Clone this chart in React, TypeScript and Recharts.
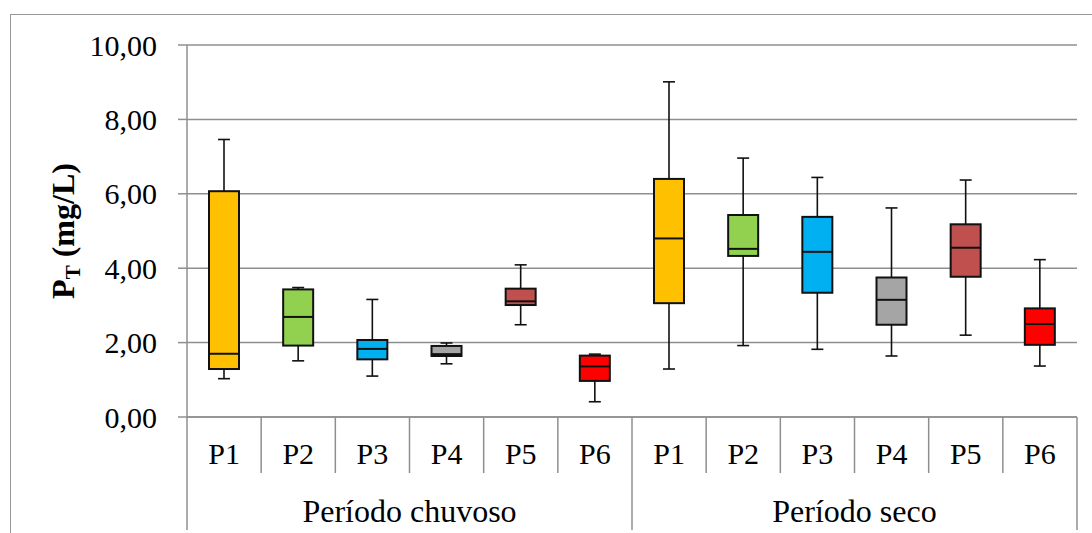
import { BarChart, Bar, XAxis, YAxis, CartesianGrid } from 'recharts';

const sites = ['P1', 'P2', 'P3', 'P4', 'P5', 'P6', 'P1', 'P2', 'P3', 'P4', 'P5', 'P6'];
const periods = ['Período chuvoso', 'Período seco'];

const minVals = [1.03, 1.51, 1.1, 1.43, 2.48, 0.41, 1.29, 1.92, 1.82, 1.64, 2.2, 1.37];
const q1Vals = [1.29, 1.92, 1.55, 1.64, 3.01, 0.97, 3.06, 4.33, 3.34, 2.48, 3.77, 1.94];
const medianVals = [1.7, 2.69, 1.83, 1.69, 3.11, 1.36, 4.8, 4.52, 4.44, 3.15, 4.55, 2.5];
const q3Vals = [6.07, 3.43, 2.07, 1.91, 3.45, 1.65, 6.4, 5.43, 5.38, 3.75, 5.18, 2.92];
const maxVals = [7.46, 3.48, 3.16, 1.99, 4.09, 1.69, 9.01, 6.96, 6.44, 5.62, 6.37, 4.23];

const yTicks = [0, 2, 4, 6, 8, 10];
const boxColors = ['#FFC000', '#92D050', '#00B0F0', '#A5A5A5', '#C0504D', '#FF0000'];

const W = 1092;
const H = 533;
const M = { top: 45, right: 15, bottom: 0, left: 0 };
const X_AXIS_H = 116;
const Y_AXIS_W = 187;
const BAND = (W - M.left - M.right - Y_AXIS_W) / sites.length;
const GRID = '#8f8f8f';
const FONT = '"Liberation Serif", "Times New Roman", serif';

const data = sites.map((s, i) => ({
  key: String(i),
  site: s,
  min: minVals[i],
  q1: q1Vals[i],
  median: medianVals[i],
  q3: q3Vals[i],
  max: maxVals[i],
  range: [minVals[i], maxVals[i]],
}));

// box + whiskers drawn inside the [min, max] range bar the library places
function BoxShape(props: any) {
  const { x, y, width, height, payload, index } = props;
  const top = Math.min(y, y + height);
  const h = Math.abs(height);
  const span = payload.max - payload.min;
  const py = (v: number) => top + ((payload.max - v) / span) * h;
  const cx = x + width / 2;
  const cap = 6;
  const color = boxColors[index % boxColors.length];
  return (
    <g>
      <line x1={cx} x2={cx} y1={py(payload.max)} y2={py(payload.min)} stroke="#111" strokeWidth={1.6} />
      <line x1={cx - cap} x2={cx + cap} y1={py(payload.max)} y2={py(payload.max)} stroke="#111" strokeWidth={1.6} />
      <line x1={cx - cap} x2={cx + cap} y1={py(payload.min)} y2={py(payload.min)} stroke="#111" strokeWidth={1.6} />
      <rect
        x={x}
        y={py(payload.q3)}
        width={width}
        height={py(payload.q1) - py(payload.q3)}
        fill={color}
        stroke="#111"
        strokeWidth={2}
      />
      <line x1={x} x2={x + width} y1={py(payload.median)} y2={py(payload.median)} stroke="#111" strokeWidth={2} />
    </g>
  );
}

function SiteTick(props: any) {
  const { x, y, index } = props;
  const right = x + BAND / 2;
  const isGroupEnd = (index + 1) % 6 === 0;
  return (
    <g>
      {index === 0 && (
        <line x1={x - BAND / 2} x2={x - BAND / 2} y1={y} y2={y + 113} stroke={GRID} strokeWidth={1.5} />
      )}
      <line x1={right} x2={right} y1={y} y2={y + (isGroupEnd ? 113 : 56)} stroke={GRID} strokeWidth={1.5} />
      <text x={x} y={y + 47} textAnchor="middle" fontSize={30} fontFamily={FONT} fill="#000">
        {sites[index]}
      </text>
      {index % 6 === 0 && (
        <text x={x - BAND / 2 + 3 * BAND} y={y + 105} textAnchor="middle" fontSize={32} fontFamily={FONT} fill="#000">
          {periods[index / 6]}
        </text>
      )}
    </g>
  );
}

function YTitle() {
  return (
    <text
      transform="translate(74,231) rotate(-90)"
      textAnchor="middle"
      fontSize={32}
      fontWeight="bold"
      fontFamily={FONT}
      fill="#000"
    >
      P<tspan fontSize={21} dy={6}>T</tspan>
      <tspan dy={-6}> (mg/L)</tspan>
    </text>
  );
}

export default function App() {
  return (
    <div style={{ position: 'absolute', left: 0, top: 0, width: W, height: H, overflow: 'hidden', background: '#fff' }}>
      <div
        style={{
          position: 'absolute',
          left: 10,
          top: 14,
          width: W,
          height: H,
          borderTop: '1px solid #999',
          borderLeft: '1px solid #999',
        }}
      />
      <div style={{ position: 'absolute', left: 0, top: 0 }}>
        <BarChart width={W} height={H} data={data} margin={M} barSize={30}>
          <CartesianGrid vertical={false} stroke={GRID} strokeWidth={1.5} />
          <XAxis
            dataKey="key"
            interval={0}
            height={X_AXIS_H}
            tickSize={0}
            tickMargin={0}
            tickLine={false}
            axisLine={{ stroke: GRID, strokeWidth: 1.5 }}
            tick={<SiteTick />}
          />
          <YAxis
            domain={[0, 10]}
            ticks={yTicks}
            width={Y_AXIS_W}
            tickSize={9}
            tickMargin={21}
            tickFormatter={(v: number) => v.toFixed(2).replace('.', ',')}
            axisLine={{ stroke: GRID, strokeWidth: 1.5 }}
            tickLine={{ stroke: GRID, strokeWidth: 1.5 }}
            tick={{ fill: '#000', fontSize: 30, fontFamily: FONT }}
            label={<YTitle />}
          />
          <Bar dataKey="range" shape={<BoxShape />} isAnimationActive={false} />
        </BarChart>
      </div>
    </div>
  );
}
